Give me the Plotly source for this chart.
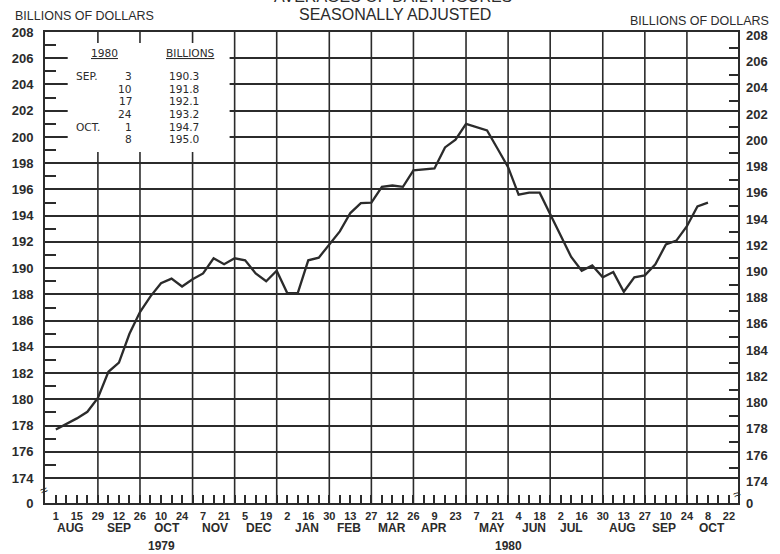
import plotly.graph_objects as go
import pandas as pd

# ---------------- data ----------------
start_week = "1979-08-01"
values = [177.7, 178.1, 178.55, 179.05, 180.1, 182.1, 182.8, 185.0, 186.65, 187.85,
          188.85, 189.2, 188.6, 189.15, 189.6, 190.75, 190.3, 190.75, 190.6, 189.6,
          189.0, 189.8, 188.1, 188.1, 190.6, 190.8, 191.8, 192.8, 194.2, 194.95,
          195.0, 196.2, 196.3, 196.2, 197.45, 197.5, 197.6, 199.2, 199.8, 201.0,
          200.75, 200.5, 199.1, 197.7, 195.6, 195.75, 195.75, 194.1, 192.5, 190.85,
          189.8, 190.2, 189.3, 189.7, 188.2, 189.3, 189.45, 190.3, 191.8, 192.1,
          193.2, 194.7, 195.0]
dates = pd.date_range(start_week, periods=len(values), freq="7D")

axis_weeks = pd.date_range("1979-08-01", "1980-10-22", freq="7D")
labeled_weeks = axis_weeks[::2]
day_labels = [str(d.day) for d in labeled_weeks]
month_end_weeks = [d for d in axis_weeks[:-1] if (d + pd.Timedelta(days=7)).month != d.month]

month_names = ["AUG", "SEP", "OCT", "NOV", "DEC", "JAN", "FEB", "MAR", "APR",
               "MAY", "JUN", "JUL", "AUG", "SEP", "OCT"]
month_label_pos = ["1979-08-11", "1979-09-12", "1979-10-14", "1979-11-15", "1979-12-14",
                   "1980-01-15", "1980-02-12", "1980-03-12", "1980-04-09", "1980-05-17",
                   "1980-06-14", "1980-07-09", "1980-08-12", "1980-09-09", "1980-10-11"]
year_labels = ["1979", "1980"]
year_label_pos = ["1979-10-10", "1980-05-28"]

y_major = list(range(174, 209, 2))
y_minor = list(range(175, 208, 2))
y_bottom = 172.1
y_ticktext = ["0"] + [str(v) for v in y_major]

legend_header = ["1980", "BILLIONS"]
legend_months = ["SEP.", "", "", "", "OCT.", ""]
legend_days = ["3", "10", "17", "24", "1", "8"]
legend_vals = ["190.3", "191.8", "192.1", "193.2", "194.7", "195.0"]

# ---------------- layout helpers ----------------
W, H = 780, 554
L, R, T, B = 40, 38, 32, 51
PW, PH = W - L - R, H - T - B
INK = "#2b2b2b"
FONT = "Liberation Sans"


def px(x):
    return (x - L) / PW


def py(y):
    return (H - B - y) / PH


fig = go.Figure()
fig.add_trace(go.Scatter(x=dates, y=values, mode="lines",
                         line=dict(color=INK, width=2.3), showlegend=False,
                         hoverinfo="x+y"))
fig.add_trace(go.Scatter(x=dates, y=values, mode="lines", yaxis="y2",
                         line=dict(color="rgba(0,0,0,0)", width=0), showlegend=False,
                         hoverinfo="skip"))

shapes = []
for d in month_end_weeks:
    shapes.append(dict(type="line", xref="x", yref="paper", x0=d, x1=d, y0=0, y1=1,
                       line=dict(color=INK, width=1.6), layer="below"))
# blank area behind the table
shapes.append(dict(type="rect", xref="paper", yref="paper", x0=px(63), x1=px(227),
                   y0=py(152), y1=py(43), fillcolor="white", line=dict(width=0),
                   layer="above"))

ann = []


def text(x, y, s, size=12, xanchor="center", family=FONT, weight="normal", angle=0):
    ann.append(dict(x=x, y=y, xref="paper", yref="paper", text=s, showarrow=False,
                    xanchor=xanchor, yanchor="middle", textangle=angle, borderpad=0,
                    font=dict(family=family, size=size, color=INK, weight=weight)))


text(px(393), py(-4), "AVERAGES OF DAILY FIGURES", size=16)
text(px(395), py(14), "SEASONALLY ADJUSTED", size=16)
text(px(80), py(16), "BILLIONS OF DOLLARS", size=12.5)
text(px(703), py(21), "BILLIONS OF DOLLARS", size=12.5)

# table
TF = "DejaVu Sans"
TS = 10.6
text(px(100), py(52.5), "<u>" + legend_header[0] + "</u>", size=TS, family=TF)
text(px(187), py(52.5), "<u>" + legend_header[1] + "</u>", size=TS, family=TF)
for i in range(len(legend_days)):
    yy = py(76 + i * 12.68)
    if legend_months[i]:
        text(px(70), yy, legend_months[i], size=TS, xanchor="left", family=TF)
    text(px(129), yy, legend_days[i], size=TS, xanchor="right", family=TF)
    text(px(165), yy, legend_vals[i], size=TS, xanchor="left", family=TF)

# month and year labels
for m, pos in zip(month_names, month_label_pos):
    ann.append(dict(x=pos, y=py(528), xref="x", yref="paper", text=m, showarrow=False,
                    xanchor="center", yanchor="middle",
                    font=dict(family=FONT, size=12, color=INK, weight="bold")))
for yl, pos in zip(year_labels, year_label_pos):
    ann.append(dict(x=pos, y=py(546), xref="x", yref="paper", text=yl, showarrow=False,
                    xanchor="center", yanchor="middle",
                    font=dict(family=FONT, size=12, color=INK, weight="bold")))

# axis break marks
text(px(38), py(490), "≈", size=13, angle=-25)
text(px(740), py(494), "≈", size=13, angle=-25)

fig.update_layout(
    width=W, height=H,
    margin=dict(l=L, r=R, t=T, b=B),
    paper_bgcolor="white", plot_bgcolor="white",
    shapes=shapes, annotations=ann,
    xaxis=dict(type="date", range=["1979-07-24 19:00", "1980-10-28 00:00"],
               tickmode="array", tickvals=list(labeled_weeks), ticktext=day_labels,
               ticks="inside", ticklen=8, tickwidth=1.5, tickcolor=INK,
               showgrid=False, zeroline=False, showline=True, linecolor=INK,
               linewidth=2, mirror=True, ticklabelstandoff=2,
               tickfont=dict(family=FONT, size=11, color=INK, weight="bold"),
               minor=dict(tickmode="array", tickvals=list(axis_weeks[1::2]),
                          ticks="inside", ticklen=8, tickwidth=1.5, tickcolor=INK,
                          showgrid=False)),
    yaxis=dict(range=[y_bottom, 208], tickmode="array",
               tickvals=[y_bottom] + y_major, ticktext=y_ticktext,
               ticks="", showgrid=True, gridcolor=INK, gridwidth=1.6,
               zeroline=False, showline=True, linecolor=INK, linewidth=2,
               mirror=True, ticklabelstandoff=7,
               tickfont=dict(family=FONT, size=13, color=INK, weight="bold"),
               minor=dict(tickmode="array", tickvals=y_minor, ticks="inside",
                          ticklen=11, tickwidth=1.5, tickcolor=INK, showgrid=False)),
    yaxis2=dict(range=[y_bottom + 0.25, 208.25], overlaying="y", side="right",
                tickmode="array", tickvals=[y_bottom + 0.25] + y_major,
                ticktext=y_ticktext, ticks="", showgrid=False, zeroline=False,
                showline=False, ticklabelstandoff=7,
                tickfont=dict(family=FONT, size=13, color=INK, weight="bold"),
                minor=dict(tickmode="array", tickvals=y_minor, ticks="inside",
                           ticklen=9, tickwidth=1.5, tickcolor=INK, showgrid=False)),
)

fig.write_html("out.html", config={"displayModeBar": False},
               post_script="document.body.style.margin='0';document.body.style.overflow='hidden';")
